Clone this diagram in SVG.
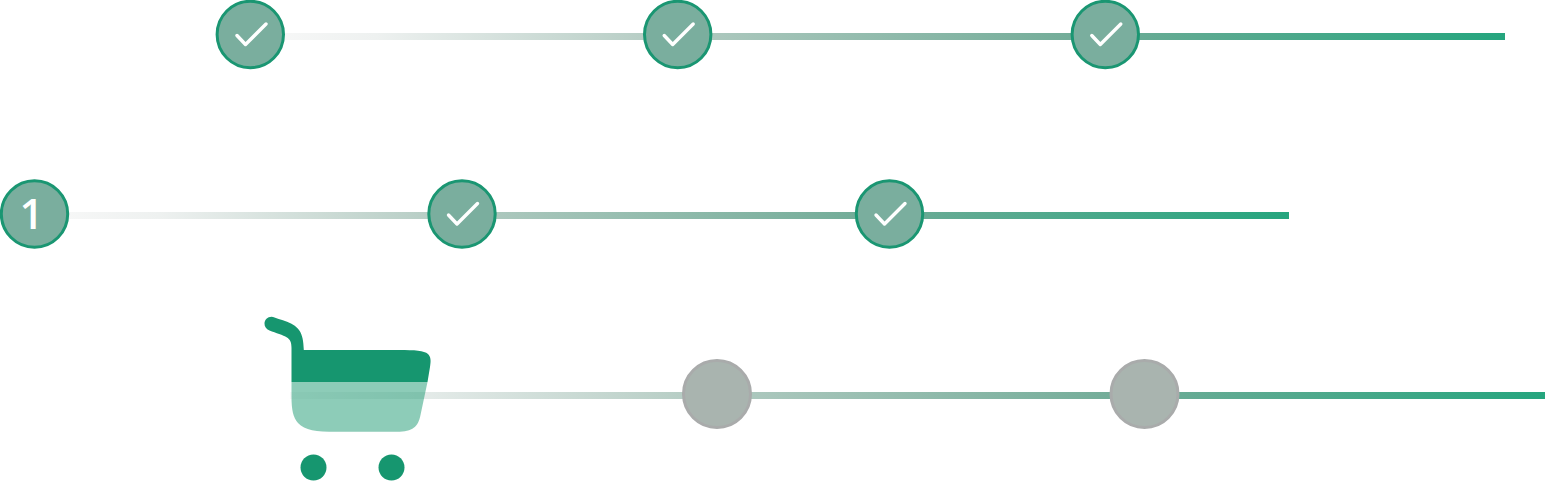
<svg xmlns="http://www.w3.org/2000/svg" width="1545" height="481" viewBox="0 0 1545 481">
<defs>
<linearGradient id="g1" gradientUnits="userSpaceOnUse" x1="250" y1="0" x2="1505" y2="0"><stop offset="0" stop-color="#f9f9f9"/><stop offset="0.1" stop-color="#eef1f0"/><stop offset="0.33" stop-color="#b3cbc2"/><stop offset="0.66" stop-color="#72ac98"/><stop offset="1" stop-color="#25a57e"/></linearGradient>
<linearGradient id="g2" gradientUnits="userSpaceOnUse" x1="34" y1="0" x2="1289" y2="0"><stop offset="0" stop-color="#f9f9f9"/><stop offset="0.1" stop-color="#eef1f0"/><stop offset="0.33" stop-color="#b3cbc2"/><stop offset="0.66" stop-color="#72ac98"/><stop offset="1" stop-color="#25a57e"/></linearGradient>
<linearGradient id="g3" gradientUnits="userSpaceOnUse" x1="290" y1="0" x2="1545" y2="0"><stop offset="0" stop-color="#f9f9f9"/><stop offset="0.1" stop-color="#e6ecea"/><stop offset="0.33" stop-color="#b3cbc2"/><stop offset="0.66" stop-color="#72ac98"/><stop offset="1" stop-color="#25a57e"/></linearGradient>
<g id="check"><path d="M-13.500 1 L-5 10 L15.500 -10.500" fill="none" stroke="#fff" stroke-width="3.400" stroke-linecap="round" stroke-linejoin="round"/></g>
</defs>
<style>
.done{fill:#7aae9e;stroke:#1a9672;stroke-width:3}
.todo{fill:#a9b4af;stroke:#a9abab;stroke-width:3}
.cart{fill:#16966f}
</style>
<g id="connectors">
<rect x="250" y="33" width="1255" height="7" fill="url(#g1)"/>
<rect x="34" y="212" width="1255" height="7" fill="url(#g2)"/>
<rect x="290" y="392" width="1255" height="7" fill="url(#g3)"/>
</g>
<g id="step-1-1"><circle class="done" cx="250.300" cy="34.500" r="33.200"/><use href="#check" x="250.500" y="34.500"/></g>
<g id="step-1-2"><circle class="done" cx="677.700" cy="34.500" r="33.200"/><use href="#check" x="677.700" y="34.500"/></g>
<g id="step-1-3"><circle class="done" cx="1105.300" cy="34.500" r="33.200"/><use href="#check" x="1105.300" y="34.500"/></g>
<g id="step-2-1"><circle class="done" cx="34.500" cy="214" r="33.200"/><text x="31.500" y="228.500" font-family="'Open Sans','Noto Sans',sans-serif" font-size="42" font-weight="600" fill="#fff" text-anchor="middle">1</text></g>
<g id="step-2-2"><circle class="done" cx="462" cy="214" r="33.200"/><use href="#check" x="462" y="214"/></g>
<g id="step-2-3"><circle class="done" cx="889.500" cy="214" r="33.200"/><use href="#check" x="889.500" y="214"/></g>
<g id="step-3-cart">
<path class="cart" d="M271.500 316.700 C272.500 316.700 273.500 317 274.500 317.400 C280 319.300 286 321 291 323.500 C298 327.500 303.500 331.500 303.800 350 L399 350 C415 350 424 350.500 428 354 C431 357 431 361 430 367 L427.500 382 L291.500 382 L291.500 348 C291.500 342 290 339.500 287 337.500 C283 335 276 333 269.500 330.500 C266 329 264.500 326.500 264.500 323.500 C264.500 320 267.500 316.700 271.500 316.700 Z"/>
<path class="cart" opacity="0.49" d="M291.500 382 L427.500 382 L420.500 415 C418 427 413 431.700 397 431.700 L336 431.700 C316 431.700 305 430.500 298 423 C293 417 291.500 410 291.500 396 Z"/>
<circle class="cart" cx="313.500" cy="467.500" r="13"/>
<circle class="cart" cx="391.500" cy="467.500" r="13"/>
</g>
<g id="step-3-2"><circle class="todo" cx="717" cy="394" r="33.500"/></g>
<g id="step-3-3"><circle class="todo" cx="1144.500" cy="394" r="33.500"/></g>
</svg>
